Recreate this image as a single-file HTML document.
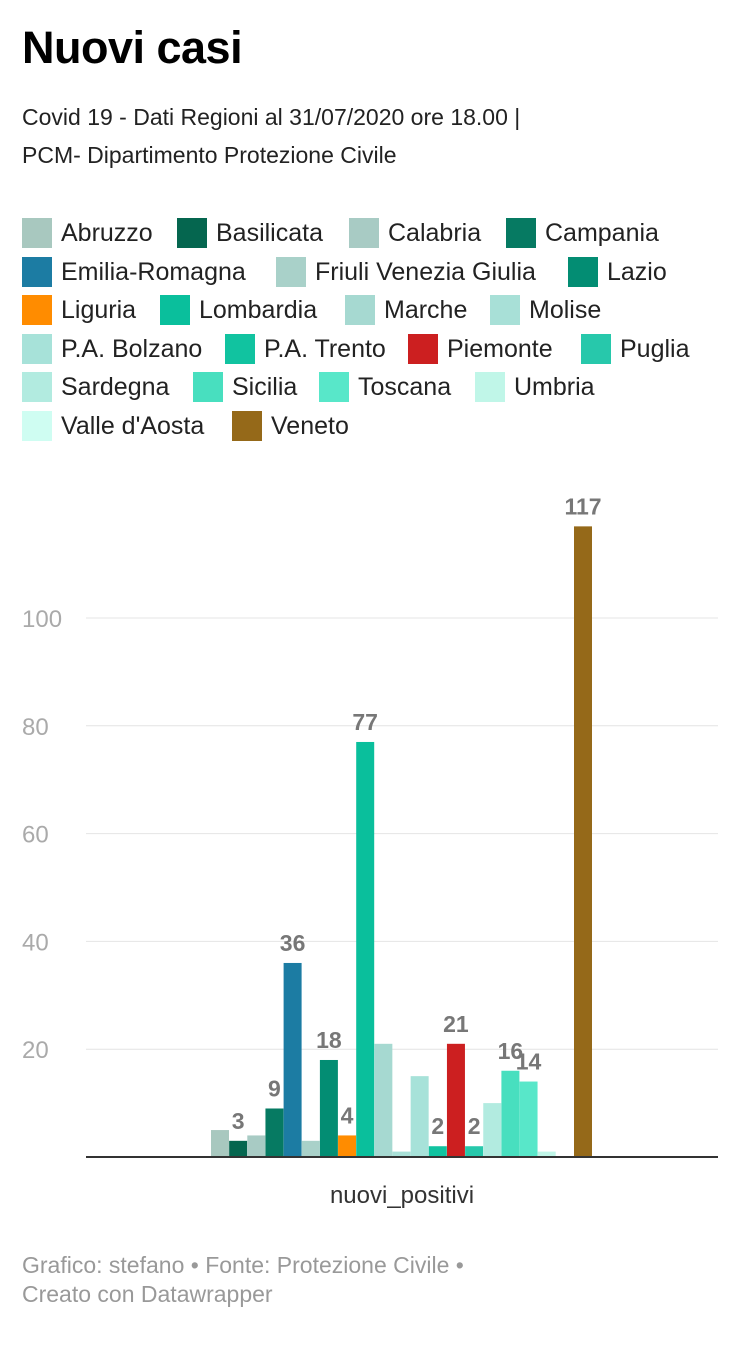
<!DOCTYPE html>
<html><head><meta charset="utf-8"><style>
body{margin:0;width:740px;height:1349px;background:#fff;font-family:"Liberation Sans",sans-serif;position:relative;overflow:hidden}
.t{position:absolute;left:22px;top:22px;font-size:45px;font-weight:bold;color:#000;letter-spacing:-0.5px}
.s{position:absolute;left:22px;top:98px;font-size:23px;line-height:38px;color:#222}
.lg{position:absolute;display:flex;align-items:center;font-size:25px;color:#222;height:30px;white-space:nowrap}
.lg i{display:inline-block;width:30px;height:30px;margin-right:9px;flex:none}
.f{position:absolute;left:22px;top:1251px;font-size:23px;line-height:29px;color:#999}
</style></head><body>
<div class="t">Nuovi casi</div>
<div class="s">Covid 19 - Dati Regioni al 31/07/2020 ore 18.00 |<br>PCM- Dipartimento Protezione Civile</div>
<div id="legend"></div>
<svg id="chart" width="740" height="1230" style="position:absolute;left:0;top:0"></svg>
<div class="f">Grafico: stefano • Fonte: Protezione Civile •<br>Creato con Datawrapper</div>
<script>
const regions=["Abruzzo","Basilicata","Calabria","Campania","Emilia-Romagna","Friuli Venezia Giulia","Lazio","Liguria","Lombardia","Marche","Molise","P.A. Bolzano","P.A. Trento","Piemonte","Puglia","Sardegna","Sicilia","Toscana","Umbria","Valle d'Aosta","Veneto"];
const values=[5,3,4,9,36,3,18,4,77,21,1,15,2,21,2,10,16,14,1,0,117];
const labels=["","3","","9","36","","18","4","77","","","","2","21","2","","16","14","","","117"];
const colors=["#a8c8bf","#05664f","#a8cbc4","#067a62","#1c7ca3","#a9d1c9","#038d73","#ff8c00","#0abf9c","#a6d9d1","#a8e0d7","#a7e2d9","#11c3a0","#cc1f20","#27c8ab","#b2ebe0","#48dfbf","#58e7c9","#c0f6e8","#cffdf2","#956919"];
const yTicks=[20,40,60,80,100];
const legendPos=[[22,218],[177,218],[349,218],[506,218],[22,257],[276,257],[568,257],[22,295],[160,295],[345,295],[490,295],[22,334],[225,334],[408,334],[581,334],[22,372],[193,372],[319,372],[475,372],[22,411],[232,411]];
const lg=document.getElementById('legend');
regions.forEach((r,i)=>{const d=document.createElement('div');d.className='lg';


d.style.left=legendPos[i][0]+'px';d.style.top=legendPos[i][1]+'px';
d.innerHTML='<i style="background:'+colors[i]+'"></i>'+r;lg.appendChild(d);});
const svg=document.getElementById('chart');const NS='http://www.w3.org/2000/svg';
const y0=1157,pxPer=5.39;const y=v=>y0-v*pxPer;
const x0=211,step=18.15,bw=18;const x=i=>x0+i*step;
function el(t,a){const e=document.createElementNS(NS,t);for(const k in a)e.setAttribute(k,a[k]);svg.appendChild(e);return e;}
yTicks.forEach(t=>{const l=el('line',{x1:86,x2:718,y1:y(t),y2:y(t),stroke:'#e4e4e4','stroke-width':1});


const tx=el('text',{x:22,y:y(t)+9,'font-size':24,fill:'#aaa','font-family':'Liberation Sans'});tx.textContent=t;

});
values.forEach((v,i)=>{const r=el('rect',{x:x(i),y:y(v),width:bw,height:v*pxPer,fill:colors[i]});


if(labels[i]){const t=el('text',{x:x(i)+bw/2,y:y(v)-12,'font-size':23,'font-weight':'bold',fill:'#777','text-anchor':'middle','font-family':'Liberation Sans'});t.textContent=labels[i];

}});
const ax=el('line',{x1:86,x2:718,y1:y0,y2:y0,stroke:'#333','stroke-width':2});


const xl=el('text',{x:402,y:1203,'font-size':24,fill:'#333','text-anchor':'middle','font-family':'Liberation Sans'});xl.textContent='nuovi_positivi';


</script>
</body></html>
